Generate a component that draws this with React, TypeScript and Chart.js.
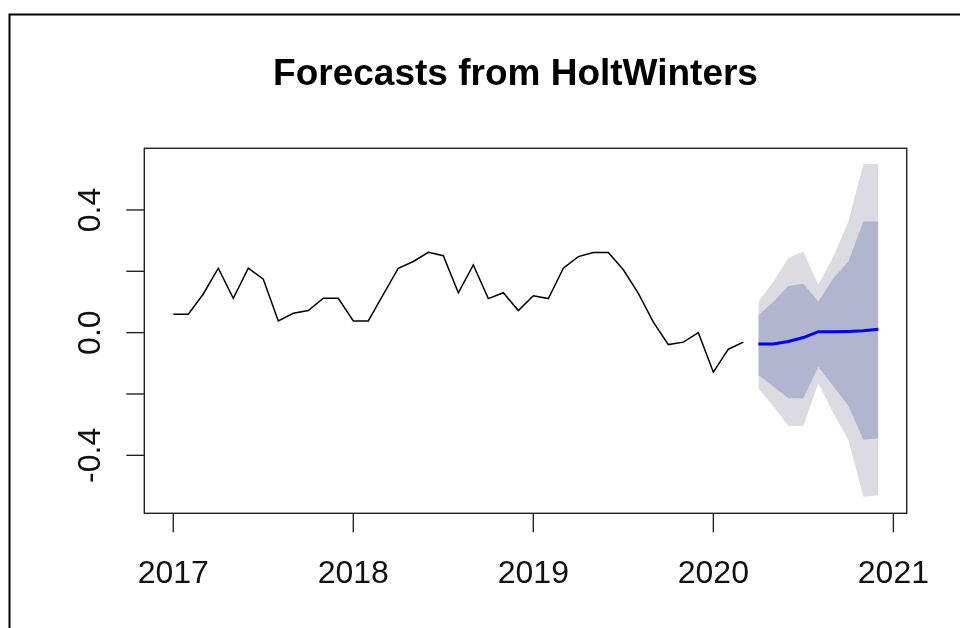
import React, { useEffect, useRef } from "react";
import { Chart, registerables } from "chart.js";

Chart.register(...registerables);

// Monthly series, January 2017 to March 2020
const seriesStartYear = 2017;
const seriesStartMonth = 0;
const observed = [
  0.06, 0.06, 0.126, 0.21, 0.112, 0.21, 0.174, 0.038, 0.063, 0.072, 0.112, 0.112,
  0.038, 0.038, 0.125, 0.21, 0.232, 0.262, 0.251, 0.13, 0.221, 0.111, 0.13, 0.072,
  0.12, 0.111, 0.21, 0.248, 0.261, 0.261, 0.205, 0.128, 0.034, -0.039, -0.031, 0.0,
  -0.129, -0.054, -0.031,
];

// Forecast horizon, April 2020 to December 2020
const forecastStartYear = 2020;
const forecastStartMonth = 3;
const forecastMean = [-0.037, -0.037, -0.029, -0.016, 0.003, 0.003, 0.004, 0.006, 0.011];
const lower80 = [-0.138, -0.176, -0.214, -0.214, -0.111, -0.176, -0.239, -0.348, -0.345];
const upper80 = [0.056, 0.101, 0.152, 0.159, 0.101, 0.177, 0.232, 0.362, 0.362];
const lower95 = [-0.181, -0.241, -0.304, -0.304, -0.165, -0.263, -0.35, -0.535, -0.53];
const upper95 = [0.101, 0.166, 0.243, 0.264, 0.156, 0.248, 0.362, 0.55, 0.55];

// Axis ticks
const xTickValues = [2017, 2018, 2019, 2020, 2021];
const xTickLabels = ["2017", "2018", "2019", "2020", "2021"];
const yTickValues = [-0.4, -0.2, 0, 0.2, 0.4];
const yTickLabels = ["-0.4", "", "0.0", "", "0.4"];

const titleText = "Forecasts from HoltWinters";

const monthly = (year: number, month: number, values: number[]) =>
  values.map((v, i) => ({ x: year + (month + i) / 12, y: v }));

const FONT = "'Liberation Sans', Arial, sans-serif";

const baseFramePlugin = {
  id: "baseFrame",
  afterDraw(chart: any) {
    const { ctx, chartArea: a, scales } = chart;
    const xs = scales.x;
    const ys = scales.y;
    ctx.save();

    // outer device frame
    ctx.strokeStyle = "#000";
    ctx.lineWidth = 2;
    ctx.beginPath();
    ctx.moveTo(9.5, chart.height + 2);
    ctx.lineTo(9.5, 14.5);
    ctx.lineTo(chart.width + 2, 14.5);
    ctx.stroke();

    // plot box
    ctx.strokeStyle = "#222";
    ctx.lineWidth = 1.4;
    ctx.strokeRect(a.left, a.top, a.right - a.left, a.bottom - a.top);

    // x axis ticks and labels
    ctx.fillStyle = "#111";
    ctx.font = `32px ${FONT}`;
    ctx.textAlign = "center";
    ctx.textBaseline = "alphabetic";
    xTickValues.forEach((v, i) => {
      const px = xs.getPixelForValue(v);
      ctx.beginPath();
      ctx.moveTo(px, a.bottom);
      ctx.lineTo(px, a.bottom + 19);
      ctx.stroke();
      ctx.fillText(xTickLabels[i], px, a.bottom + 69.5);
    });

    // y axis ticks and rotated labels
    yTickValues.forEach((v, i) => {
      const py = ys.getPixelForValue(v);
      ctx.beginPath();
      ctx.moveTo(a.left, py);
      ctx.lineTo(a.left - 18, py);
      ctx.stroke();
      if (yTickLabels[i]) {
        ctx.save();
        ctx.translate(a.left - 44, py);
        ctx.rotate(-Math.PI / 2);
        ctx.fillText(yTickLabels[i], 0, 0);
        ctx.restore();
      }
    });

    // title
    ctx.fillStyle = "#000";
    ctx.font = `bold 37px ${FONT}`;
    ctx.fillText(titleText, (a.left + a.right) / 2 - 10, a.top - 63.5);

    ctx.restore();
  },
};

export default function App() {
  const canvasRef = useRef<HTMLCanvasElement | null>(null);

  useEffect(() => {
    const canvas = canvasRef.current;
    if (!canvas) return;

    const bandStyle = {
      borderWidth: 0,
      borderColor: "rgba(0,0,0,0)",
      pointRadius: 0,
      tension: 0,
    };

    const chart = new Chart(canvas, {
      type: "line",
      data: {
        datasets: [
          {
            label: "hi95",
            data: monthly(forecastStartYear, forecastStartMonth, upper95),
            ...bandStyle,
            backgroundColor: "rgb(219,219,225)",
            fill: "+1",
            order: 6,
          },
          {
            label: "lo95",
            data: monthly(forecastStartYear, forecastStartMonth, lower95),
            ...bandStyle,
            fill: false,
            order: 5,
          },
          {
            label: "hi80",
            data: monthly(forecastStartYear, forecastStartMonth, upper80),
            ...bandStyle,
            backgroundColor: "rgb(177,181,207)",
            fill: "+1",
            order: 4,
          },
          {
            label: "lo80",
            data: monthly(forecastStartYear, forecastStartMonth, lower80),
            ...bandStyle,
            fill: false,
            order: 3,
          },
          {
            label: "forecast",
            data: monthly(forecastStartYear, forecastStartMonth, forecastMean),
            borderColor: "#0000ff",
            borderWidth: 3,
            pointRadius: 0,
            tension: 0,
            fill: false,
            order: 2,
          },
          {
            label: "observed",
            data: monthly(seriesStartYear, seriesStartMonth, observed),
            borderColor: "#000",
            borderWidth: 1.5,
            pointRadius: 0,
            tension: 0,
            fill: false,
            order: 1,
          },
        ],
      },
      options: {
        animation: false,
        responsive: false,
        devicePixelRatio: 1,
        layout: {
          padding: { left: 144.3, right: 53.3, top: 148.3, bottom: 114.7 },
        },
        scales: {
          x: { type: "linear", min: 2016.839, max: 2021.074, display: false },
          y: { type: "linear", min: -0.589, max: 0.601, display: false },
        },
        plugins: {
          legend: { display: false },
          title: { display: false },
          tooltip: { enabled: false },
        },
        events: [],
      },
      plugins: [baseFramePlugin],
    });

    return () => chart.destroy();
  }, []);

  return (
    <div style={{ position: "fixed", left: 0, top: 0, width: 960, height: 628, background: "#fff" }}>
      <canvas ref={canvasRef} width={960} height={628} style={{ display: "block" }} />
    </div>
  );
}
